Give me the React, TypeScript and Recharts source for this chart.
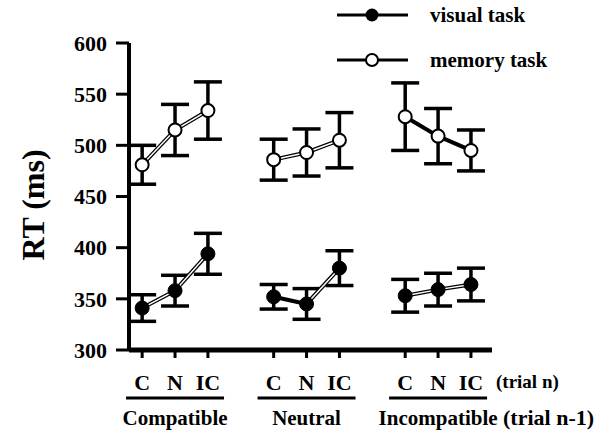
import React from "react";
import { ComposedChart, Line, XAxis, YAxis, ErrorBar, Legend } from "recharts";

// x positions of the nine conditions (gaps at 4 and 8 separate the groups)
const positions = [1, 2, 3, 5, 6, 7, 9, 10, 11];
const trialN = ["C", "N", "IC", "C", "N", "IC", "C", "N", "IC"];
const groupPos = [2, 6, 10];
const trialPrev = ["Compatible", "Neutral", "Incompatible"];

const visualRT = [341, 358, 394, 352, 345, 380, 353, 359, 364];
const visualSE = [13, 15, 20, 12, 15, 17, 16, 16, 16];
const memoryRT = [481, 515, 534, 486, 493, 505, 528, 509, 495];
const memorySE = [19, 25, 28, 20, 23, 27, 33, 27, 20];

// points whose connecting segments are drawn as a plain black stroke
const visualPlain = [false, false, false, true, false, false, false, false, false];
const memoryPlain = [false, false, false, false, false, false, true, true, true];

const yTicks = [300, 350, 400, 450, 500, 550, 600];

const FONT = "'Liberation Serif', 'Times New Roman', serif";

const rows: any[] = [];
positions.forEach((x, i) => {
  if (i > 0 && x - positions[i - 1] > 1) rows.push({ x: x - 1 });
  rows.push({
    x,
    visual: visualRT[i],
    visualErr: visualSE[i],
    visualInner: visualPlain[i] ? null : visualRT[i],
    memory: memoryRT[i],
    memoryErr: memorySE[i],
    memoryInner: memoryPlain[i] ? null : memoryRT[i],
  });
});

const textStyle = { fontFamily: FONT, fontWeight: "bold", fill: "#000" } as const;

const TrialTick = ({ x, y, payload }: any) => (
  <text x={x} y={y} dy="0.71em" textAnchor="middle" fontSize={22} style={textStyle}>
    {trialN[positions.indexOf(payload.value)]}
  </text>
);

const RTTick = ({ x, y, payload }: any) => (
  <text x={x} y={y} dy="0.35em" textAnchor="end" fontSize={22} style={textStyle}>
    {payload.value}
  </text>
);

const GroupTick = ({ x, y, payload }: any) => {
  const i = groupPos.indexOf(payload.value);
  return (
    <g>
      <line x1={x - 49} x2={x + 49} y1={y + 3} y2={y + 3} stroke="#000" strokeWidth={3} />
      <text x={x} y={y + 30} textAnchor="middle" fontSize={21} style={textStyle}>
        {trialPrev[i]}
      </text>
    </g>
  );
};

const LegendBox = () => (
  <svg width={280} height={80}>
    <line x1={7} x2={78} y1={15} y2={15} stroke="#000" strokeWidth={3} />
    <circle cx={42} cy={15} r={6.5} fill="#000" />
    <text x={100} y={22} fontSize={21} style={textStyle}>visual task</text>
    <line x1={7} x2={78} y1={60} y2={60} stroke="#000" strokeWidth={3} />
    <circle cx={42} cy={60} r={6} fill="#fff" stroke="#000" strokeWidth={2} />
    <text x={100} y={67} fontSize={21} style={textStyle}>memory task</text>
  </svg>
);

export default function App() {
  return (
    <div style={{ position: "absolute", left: 0, top: 0, background: "#fff" }}>
      <ComposedChart width={610} height={431} data={rows} margin={{ top: 43, right: 118, bottom: 0, left: 0 }}>
        <XAxis
          dataKey="x"
          type="number"
          domain={[0.6, 11.64]}
          allowDataOverflow
          ticks={positions}
          interval={0}
          height={45}
          tickSize={8}
          tickMargin={16}
          axisLine={{ stroke: "#000", strokeWidth: 5 }}
          tickLine={{ stroke: "#000", strokeWidth: 3 }}
          tick={<TrialTick />}
          label={(p: any) => (
            <text x={p.viewBox.x + p.viewBox.width + 4} y={p.viewBox.y + 38} fontSize={19} style={textStyle}>
              (trial n)
            </text>
          )}
        />
        <XAxis
          xAxisId="g"
          dataKey="x"
          type="number"
          domain={[0.6, 11.64]}
          allowDataOverflow
          ticks={groupPos}
          interval={0}
          height={36}
          tickSize={0}
          tickMargin={0}
          axisLine={false}
          tickLine={false}
          tick={<GroupTick />}
          label={(p: any) => (
            <text x={p.viewBox.x + p.viewBox.width + 11} y={p.viewBox.y + 30} fontSize={22} style={textStyle}>
              (trial n-1)
            </text>
          )}
        />
        <YAxis
          domain={[300, 600]}
          ticks={yTicks}
          interval={0}
          width={129}
          tickSize={13}
          tickMargin={9}
          axisLine={{ stroke: "#000", strokeWidth: 4 }}
          tickLine={{ stroke: "#000", strokeWidth: 3 }}
          tick={<RTTick />}
          label={() => (
            <text x={33} y={205} transform="rotate(-90 33 205)" textAnchor="middle" dominantBaseline="central" fontSize={32} style={textStyle}>
              RT (ms)
            </text>
          )}
        />
        <Legend
          layout="horizontal"
          verticalAlign="middle"
          align="center"
          wrapperStyle={{ top: 0, left: 330, width: 280, height: 80 }}
          content={() => <LegendBox />}
        />

        <Line dataKey="memory" type="linear" stroke="#000" strokeWidth={4} dot={false} isAnimationActive={false} legendType="none">
          <ErrorBar dataKey="memoryErr" direction="y" width={14} stroke="#000" strokeWidth={3.5} />
        </Line>
        <Line dataKey="memoryInner" type="linear" stroke="#fff" strokeWidth={1.5} dot={false} isAnimationActive={false} legendType="none" />
        <Line
          dataKey="memory"
          type="linear"
          stroke="none"
          dot={{ r: 6.5, fill: "#fff", stroke: "#000", strokeWidth: 2 }}
          isAnimationActive={false}
          legendType="none"
        />

        <Line dataKey="visual" type="linear" stroke="#000" strokeWidth={4} dot={false} isAnimationActive={false} legendType="none">
          <ErrorBar dataKey="visualErr" direction="y" width={14} stroke="#000" strokeWidth={3.5} />
        </Line>
        <Line dataKey="visualInner" type="linear" stroke="#fff" strokeWidth={1.5} dot={false} isAnimationActive={false} legendType="none" />
        <Line
          dataKey="visual"
          type="linear"
          stroke="none"
          dot={{ r: 7, fill: "#000", stroke: "#000", strokeWidth: 1 }}
          isAnimationActive={false}
          legendType="none"
        />
      </ComposedChart>
    </div>
  );
}
